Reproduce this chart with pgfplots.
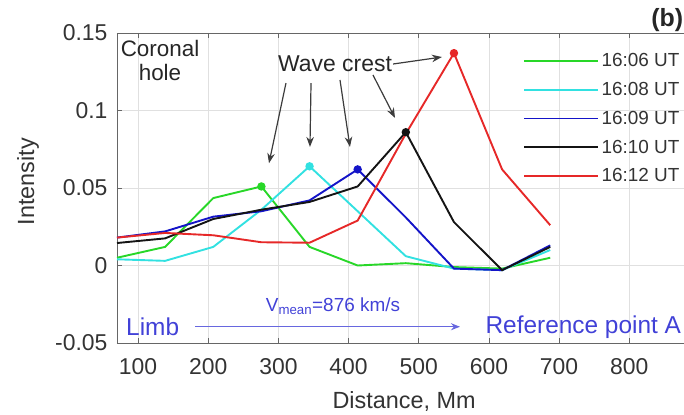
\documentclass[border=0pt]{standalone}
\usepackage{pgfplots}
\pgfplotsset{compat=1.18}
\usepackage{fontspec}
\setmainfont{Liberation Sans}
\usetikzlibrary{arrows.meta,calc}

\definecolor{cgreen}{RGB}{40,215,40}
\definecolor{ccyan}{RGB}{50,225,225}
\definecolor{cblue}{RGB}{20,20,200}
\definecolor{cblack}{RGB}{20,20,20}
\definecolor{cred}{RGB}{230,40,40}
\definecolor{annblue}{RGB}{65,65,215}
\definecolor{arrgray}{RGB}{60,60,60}

\newcommand{\fs}[1]{\fontsize{#1}{1.2\dimexpr#1pt\relax}\selectfont}

\begin{document}
\begin{tikzpicture}
\begin{axis}[
  name=ax,
  scale only axis,
  width=575.4bp, height=310bp,
  xmin=70, xmax=890,
  ymin=-0.05, ymax=0.15,
  xtick={100,200,300,400,500,600,700,800},
  xticklabels={100,200,300,400,500,600,700,800},
  ytick={-0.05,0,0.05,0.1,0.15},
  yticklabels={-0.05,0,0.05,0.1,0.15},
  grid=major,
  grid style={black!12, line width=0.7bp},
  axis line style={black!60, line width=0.9bp},
  tick align=inside,
  major tick length=5bp,
  tick style={black!60, line width=0.8bp},
  ticklabel style={font=\fs{23}, text=black!80},
  xticklabel style={yshift=-12bp},
  yticklabel style={xshift=-6bp},
  /pgf/number format/assume math mode=true,
  xlabel={Distance, Mm},
  ylabel={Intensity},
  label style={font=\fs{23.5}, text=black!80},
  xlabel style={at={(axis description cs:0.499,-0.19)}, anchor=center},
  ylabel style={at={(axis description cs:-0.1547,0.52)}, anchor=center},
  legend cell align=left,
  legend style={
    at={(axis description cs:0.7056,0.942)}, anchor=north west,
    draw=none, fill=none, font=\fs{19}, text=black!80,
    row sep=9bp, inner sep=0pt,
    nodes={inner sep=2.5bp}},
  legend image code/.code={\draw[#1, line width=1.9bp] (0bp,0bp) -- (74bp,0bp);},
  every axis plot/.append style={line width=1.9bp},
  clip=false,
]

% intensity profiles along the path, one per time step
\addplot[cgreen] coordinates {
  (70,0.005) (138.6,0.012) (207.2,0.0435) (275.8,0.051) (344.4,0.012)
  (413,0.000) (481.6,0.0015) (550.2,-0.001) (618.8,-0.002) (687.4,0.005)};
\addlegendentry{16:06 UT}
\addplot[ccyan] coordinates {
  (70,0.004) (138.6,0.003) (207.2,0.012) (275.8,0.036) (344.4,0.064)
  (413,0.035) (481.6,0.006) (550.2,-0.002) (618.8,-0.003) (687.4,0.010)};
\addlegendentry{16:08 UT}
\addplot[cblue] coordinates {
  (70,0.018) (138.6,0.022) (207.2,0.0315) (275.8,0.035) (344.4,0.042)
  (413,0.062) (481.6,0.031) (550.2,-0.002) (618.8,-0.003) (687.4,0.013)};
\addlegendentry{16:09 UT}
\addplot[cblack] coordinates {
  (70,0.0145) (138.6,0.0175) (207.2,0.030) (275.8,0.036) (344.4,0.041)
  (413,0.051) (481.6,0.086) (550.2,0.028) (618.8,-0.003) (687.4,0.012)};
\addlegendentry{16:10 UT}
\addplot[cred] coordinates {
  (70,0.018) (138.6,0.021) (207.2,0.0195) (275.8,0.0150) (344.4,0.0147)
  (413,0.029) (481.6,0.085) (550.2,0.137) (618.8,0.062) (687.4,0.026)};
\addlegendentry{16:12 UT}

% wave crest positions
\addplot[cgreen, only marks, mark=*, mark size=3.2bp, forget plot] coordinates {(275.8,0.051)};
\addplot[ccyan, only marks, mark=*, mark size=3.2bp, forget plot] coordinates {(344.4,0.064)};
\addplot[cblue, only marks, mark=*, mark size=3.2bp, forget plot] coordinates {(413,0.062)};
\addplot[cblack, only marks, mark=*, mark size=3.2bp, forget plot] coordinates {(481.6,0.086)};
\addplot[cred, only marks, mark=*, mark size=3.2bp, forget plot] coordinates {(550.2,0.137)};

% annotations
\node[font=\fs{22.5}, text=black!85, align=center, inner sep=0pt] at (axis cs:131.3,0.132)
  {Coronal\\[-3bp]hole};
\node[font=\fs{23}, text=black!85, inner sep=1bp] at (axis cs:380.7,0.130) {Wave crest};
\begin{scope}[arrgray, line width=1.2bp, -{Stealth[length=10bp,width=7.5bp]}]
  \draw (axis cs:310.8,0.1177) -- (axis cs:286.6,0.0660);
  \draw (axis cs:346.5,0.1177) -- (axis cs:345.0,0.0765);
  \draw (axis cs:387.8,0.1197) -- (axis cs:402.0,0.0765);
  \draw (axis cs:434.8,0.1229) -- (axis cs:466.2,0.0952);
  \draw (axis cs:463.5,0.1300) -- (axis cs:533.0,0.1345);
\end{scope}

\node[font=\fs{24.5}, text=annblue, anchor=west, inner sep=0pt] at (axis cs:82.8,-0.0395) {Limb};
\node[font=\fs{24.5}, text=annblue, anchor=east, inner sep=0pt] at (axis cs:874,-0.0395) {Reference point A};
\draw[annblue!80, line width=1.3bp, -{Stealth[length=9bp,width=7bp]}]
  (axis cs:181.2,-0.0395) -- (axis cs:558.8,-0.0395);
\node[font=\fs{19}, text=annblue, inner sep=0pt] at (axis cs:377.8,-0.0262)
  {V\textsubscript{mean}=876 km/s};

\node[font=\bfseries\fs{25}, text=black!85, anchor=east, inner sep=0pt] at (axis cs:877,0.1584) {(b)};
\end{axis}
\pgfresetboundingbox
\path[use as bounding box] ($(ax.south west)+(-117bp,-72bp)$) rectangle ($(ax.south west)+(567bp,343bp)$);
\end{tikzpicture}
\end{document}
